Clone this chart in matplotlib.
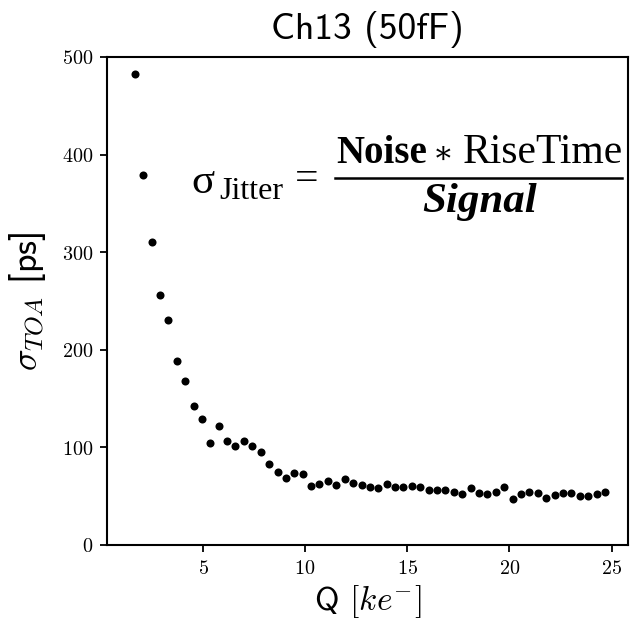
import numpy as np
import matplotlib
matplotlib.use('Agg')
import matplotlib.pyplot as plt

plt.rcParams['mathtext.fontset'] = 'cm'
plt.rcParams['font.family'] = 'DejaVu Sans'

# charge [ke-] and timing resolution [ps]
q_ke = [1.66, 2.07, 2.48, 2.89, 3.30, 3.72, 4.13, 4.54, 4.95, 5.36,
        5.77, 6.18, 6.59, 7.00, 7.41, 7.83, 8.24, 8.65, 9.06, 9.47,
        9.88, 10.29, 10.70, 11.11, 11.52, 11.94, 12.35, 12.76, 13.17, 13.58,
        13.99, 14.40, 14.81, 15.22, 15.63, 16.05, 16.46, 16.87, 17.28, 17.69,
        18.10, 18.51, 18.92, 19.33, 19.74, 20.16, 20.57, 20.98, 21.39, 21.80,
        22.21, 22.62, 23.03, 23.44, 23.85, 24.27, 24.68]
sigma_toa = [483, 379, 310, 256, 231, 189, 168, 142, 129, 104,
             122, 107, 101, 107, 101, 95, 83, 75, 69, 74,
             73, 60, 63, 66, 61, 68, 64, 61, 59, 58,
             63, 59, 59, 60, 59, 56, 56, 56, 54, 52,
             58, 53, 52, 54, 59, 47, 52, 54, 53, 48,
             51, 53, 53, 50, 50, 52, 54]

fig = plt.figure(figsize=(6.31, 6.26), dpi=100)
ax = fig.add_axes([0.1696, 0.1294, 0.8254, 0.7796])

ax.plot(q_ke, sigma_toa, 'o', color='black', markersize=5.8, markeredgewidth=0)

ax.set_xlim(0.3, 25.8)
ax.set_ylim(0, 500)
ax.set_xticks([5, 10, 15, 20, 25])
ax.set_yticks([0, 100, 200, 300, 400, 500])
ax.set_xticklabels([r'$5$', r'$10$', r'$15$', r'$20$', r'$25$'])
ax.set_yticklabels([r'$0$', r'$100$', r'$200$', r'$300$', r'$400$', r'$500$'])
ax.tick_params(labelsize=14.5, width=1.3, length=5, pad=5)
for s in ax.spines.values():
    s.set_linewidth(1.5)

ax.set_title('Ch13 (50fF)', fontsize=27, family='cmss10', pad=13)
ax.set_xlabel(r'Q $[ke^{-}]$', fontsize=24, family='cmss10', labelpad=4)
ax.set_ylabel(r'$\sigma_{TOA}$ [ps]', fontsize=26, family='cmss10', labelpad=10)

# jitter formula
ff = ['Liberation Serif', 'DejaVu Serif']
fig.text(0.303, 0.6917, 'σ', fontsize=31, family=ff, ha='left', va='baseline')
fig.text(0.3475, 0.6817, 'Jitter', fontsize=23, family=ff, ha='left', va='baseline')
fig.text(0.468, 0.697, '=', fontsize=30, family=ff, ha='left', va='baseline')
fig.add_artist(plt.Line2D([0.531, 0.986], [0.7149, 0.7149], color='black', lw=1.8))
fig.text(0.5325, 0.7396, 'Noise', fontsize=28, family=ff, weight='bold',
         ha='left', va='baseline')
fig.text(0.703, 0.7396, '∗', fontsize=22, family=ff, ha='center', va='baseline')
fig.text(0.988, 0.7396, 'RiseTime', fontsize=30, family=ff, ha='right',
         va='baseline')
fig.text(0.6688, 0.6613, 'Signal', fontsize=31, family=ff, weight='bold',
         style='italic', ha='left', va='baseline')

fig.savefig('out.png', dpi=100)
